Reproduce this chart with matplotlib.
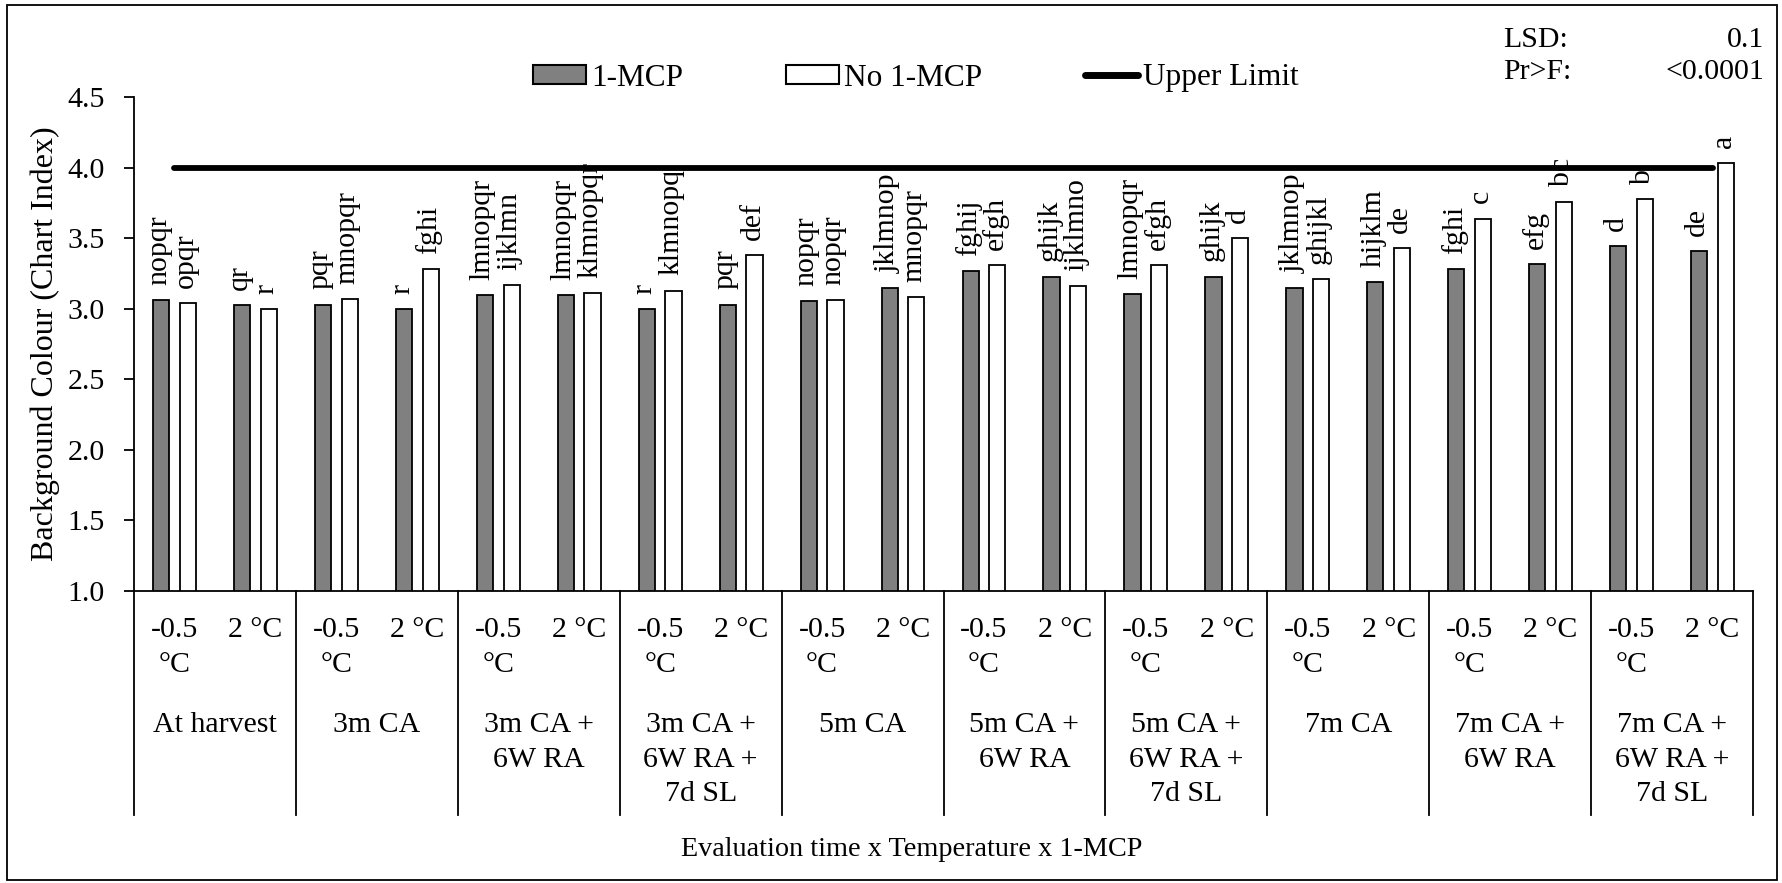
import matplotlib.pyplot as plt
from matplotlib.patches import Patch, Rectangle
from matplotlib.lines import Line2D
from matplotlib.transforms import blended_transform_factory

# data
groups = ["At harvest", "3m CA", "3m CA +\n6W RA", "3m CA +\n6W RA +\n7d SL",
          "5m CA", "5m CA +\n6W RA", "5m CA +\n6W RA +\n7d SL", "7m CA",
          "7m CA +\n6W RA", "7m CA +\n6W RA +\n7d SL"]
temps = ["-0.5\n°C", "2 °C"] * 10

mcp = [3.06, 3.025, 3.03, 3.00, 3.10, 3.10, 3.00, 3.03, 3.055, 3.15,
       3.27, 3.23, 3.105, 3.23, 3.15, 3.19, 3.28, 3.32, 3.445, 3.41]
no_mcp = [3.04, 3.00, 3.07, 3.28, 3.17, 3.11, 3.13, 3.38, 3.06, 3.085,
          3.31, 3.16, 3.31, 3.50, 3.21, 3.43, 3.64, 3.76, 3.78, 4.035]
upper_limit = [4.0] * 20

mcp_letters = ["nopqr", "qr", "pqr", "r", "lmnopqr", "lmnopqr", "r", "pqr", "nopqr", "jklmnop",
               "fghij", "ghijk", "lmnopqr", "ghijk", "jklmnop", "hijklm", "fghi", "efg", "d", "de"]
no_mcp_letters = ["opqr", "r", "mnopqr", "fghi", "ijklmn", "klmnopqr", "klmnopq", "def", "nopqr", "mnopqr",
                  "efgh", "ijklmno", "efgh", "d", "ghijkl", "de", "c", "bc", "b", "a"]

plt.rcParams['font.family'] = ['Liberation Serif', 'DejaVu Serif']
plt.rcParams['font.size'] = 21.5

W, H = 1782, 883
fig = plt.figure(figsize=(W / 100, H / 100), dpi=100)
x0, x1, ybase, ytop = 134, 1753, 591, 97.4
ax = fig.add_axes([x0 / W, 1 - ybase / H, (x1 - x0) / W, (ybase - ytop) / H])


def ay(px):
    return (ybase - px) / (ybase - ytop)


x = list(range(len(mcp)))
off, bw = 0.165, 0.2
ax.bar([i - off for i in x], mcp, width=bw, color='#808080', edgecolor='black', linewidth=1.3, zorder=2)
ax.bar([i + off for i in x], no_mcp, width=bw, color='white', edgecolor='black', linewidth=1.3, zorder=2)
ax.plot(x, upper_limit, color='black', lw=4.2, solid_capstyle='round', zorder=3)

for i in x:
    ax.annotate(mcp_letters[i], (i - off, mcp[i]), xytext=(-1.5, 11), textcoords='offset points',
                rotation=90, ha='center', va='bottom')
    ax.annotate(no_mcp_letters[i], (i + off, no_mcp[i]), xytext=(-1.5, 11), textcoords='offset points',
                rotation=90, ha='center', va='bottom')

ax.set_xlim(-0.5, len(x) - 0.5)
ax.set_ylim(1.0, 4.5)
ax.set_yticks([1.0, 1.5, 2.0, 2.5, 3.0, 3.5, 4.0, 4.5])
ax.set_yticklabels([f"{v:.1f}" for v in ax.get_yticks()])
ax.tick_params(axis='y', length=7, width=1.3, pad=14)
ax.set_xticks([])
for s in ['top', 'right']:
    ax.spines[s].set_visible(False)
ax.spines['left'].set_linewidth(1.3)
ax.spines['bottom'].set_linewidth(1.3)

# multi-level category axis
tr = blended_transform_factory(ax.transData, ax.transAxes)
for b in range(len(groups) + 1):
    ax.plot([2 * b - 0.5] * 2, [0, ay(815)], color='black', lw=1.3, transform=tr, clip_on=False)
for i in x:
    ax.text(i, ay(617), temps[i], transform=tr, ha='center', va='top', linespacing=1.45)
for g, name in enumerate(groups):
    ax.text(2 * g + 0.5, ay(712), name, transform=tr, ha='center', va='top', linespacing=1.43)

fig.text(45 / W, 1 - 344 / H, "Background Colour (Chart Index)", rotation=90, ha='center', va='center',
         fontsize=23)
fig.text(912 / W, 1 - 850 / H, "Evaluation time x Temperature x 1-MCP", ha='center', va='center',
         fontsize=20.3)

fig.text(1503 / W, 1 - 40 / H, "LSD:", ha='left', va='center')
fig.text(1764 / W, 1 - 40 / H, "0.1", ha='right', va='center')
fig.text(1503 / W, 1 - 72 / H, "Pr>F:", ha='left', va='center')
fig.text(1764 / W, 1 - 72 / H, "<0.0001", ha='right', va='center')

handles = [Patch(facecolor='#808080', edgecolor='black', linewidth=1.5),
           Patch(facecolor='white', edgecolor='black', linewidth=1.5),
           Line2D([0], [0], color='black', lw=5, solid_capstyle='round')]
fig.legend(handles, ["1-MCP", "No 1-MCP", "Upper Limit"], loc='center',
           bbox_to_anchor=(916 / W, 1 - 78 / H), ncol=3, frameon=False, fontsize=22.5,
           handlelength=1.7, handleheight=0.58, handletextpad=0.15, columnspacing=3.3)

fig.patches.append(Rectangle((7 / W, 3 / H), (1777 - 7) / W, (880 - 5) / H, fill=False,
                             edgecolor='black', linewidth=1.3, transform=fig.transFigure))

fig.savefig('out.png', dpi=100)
